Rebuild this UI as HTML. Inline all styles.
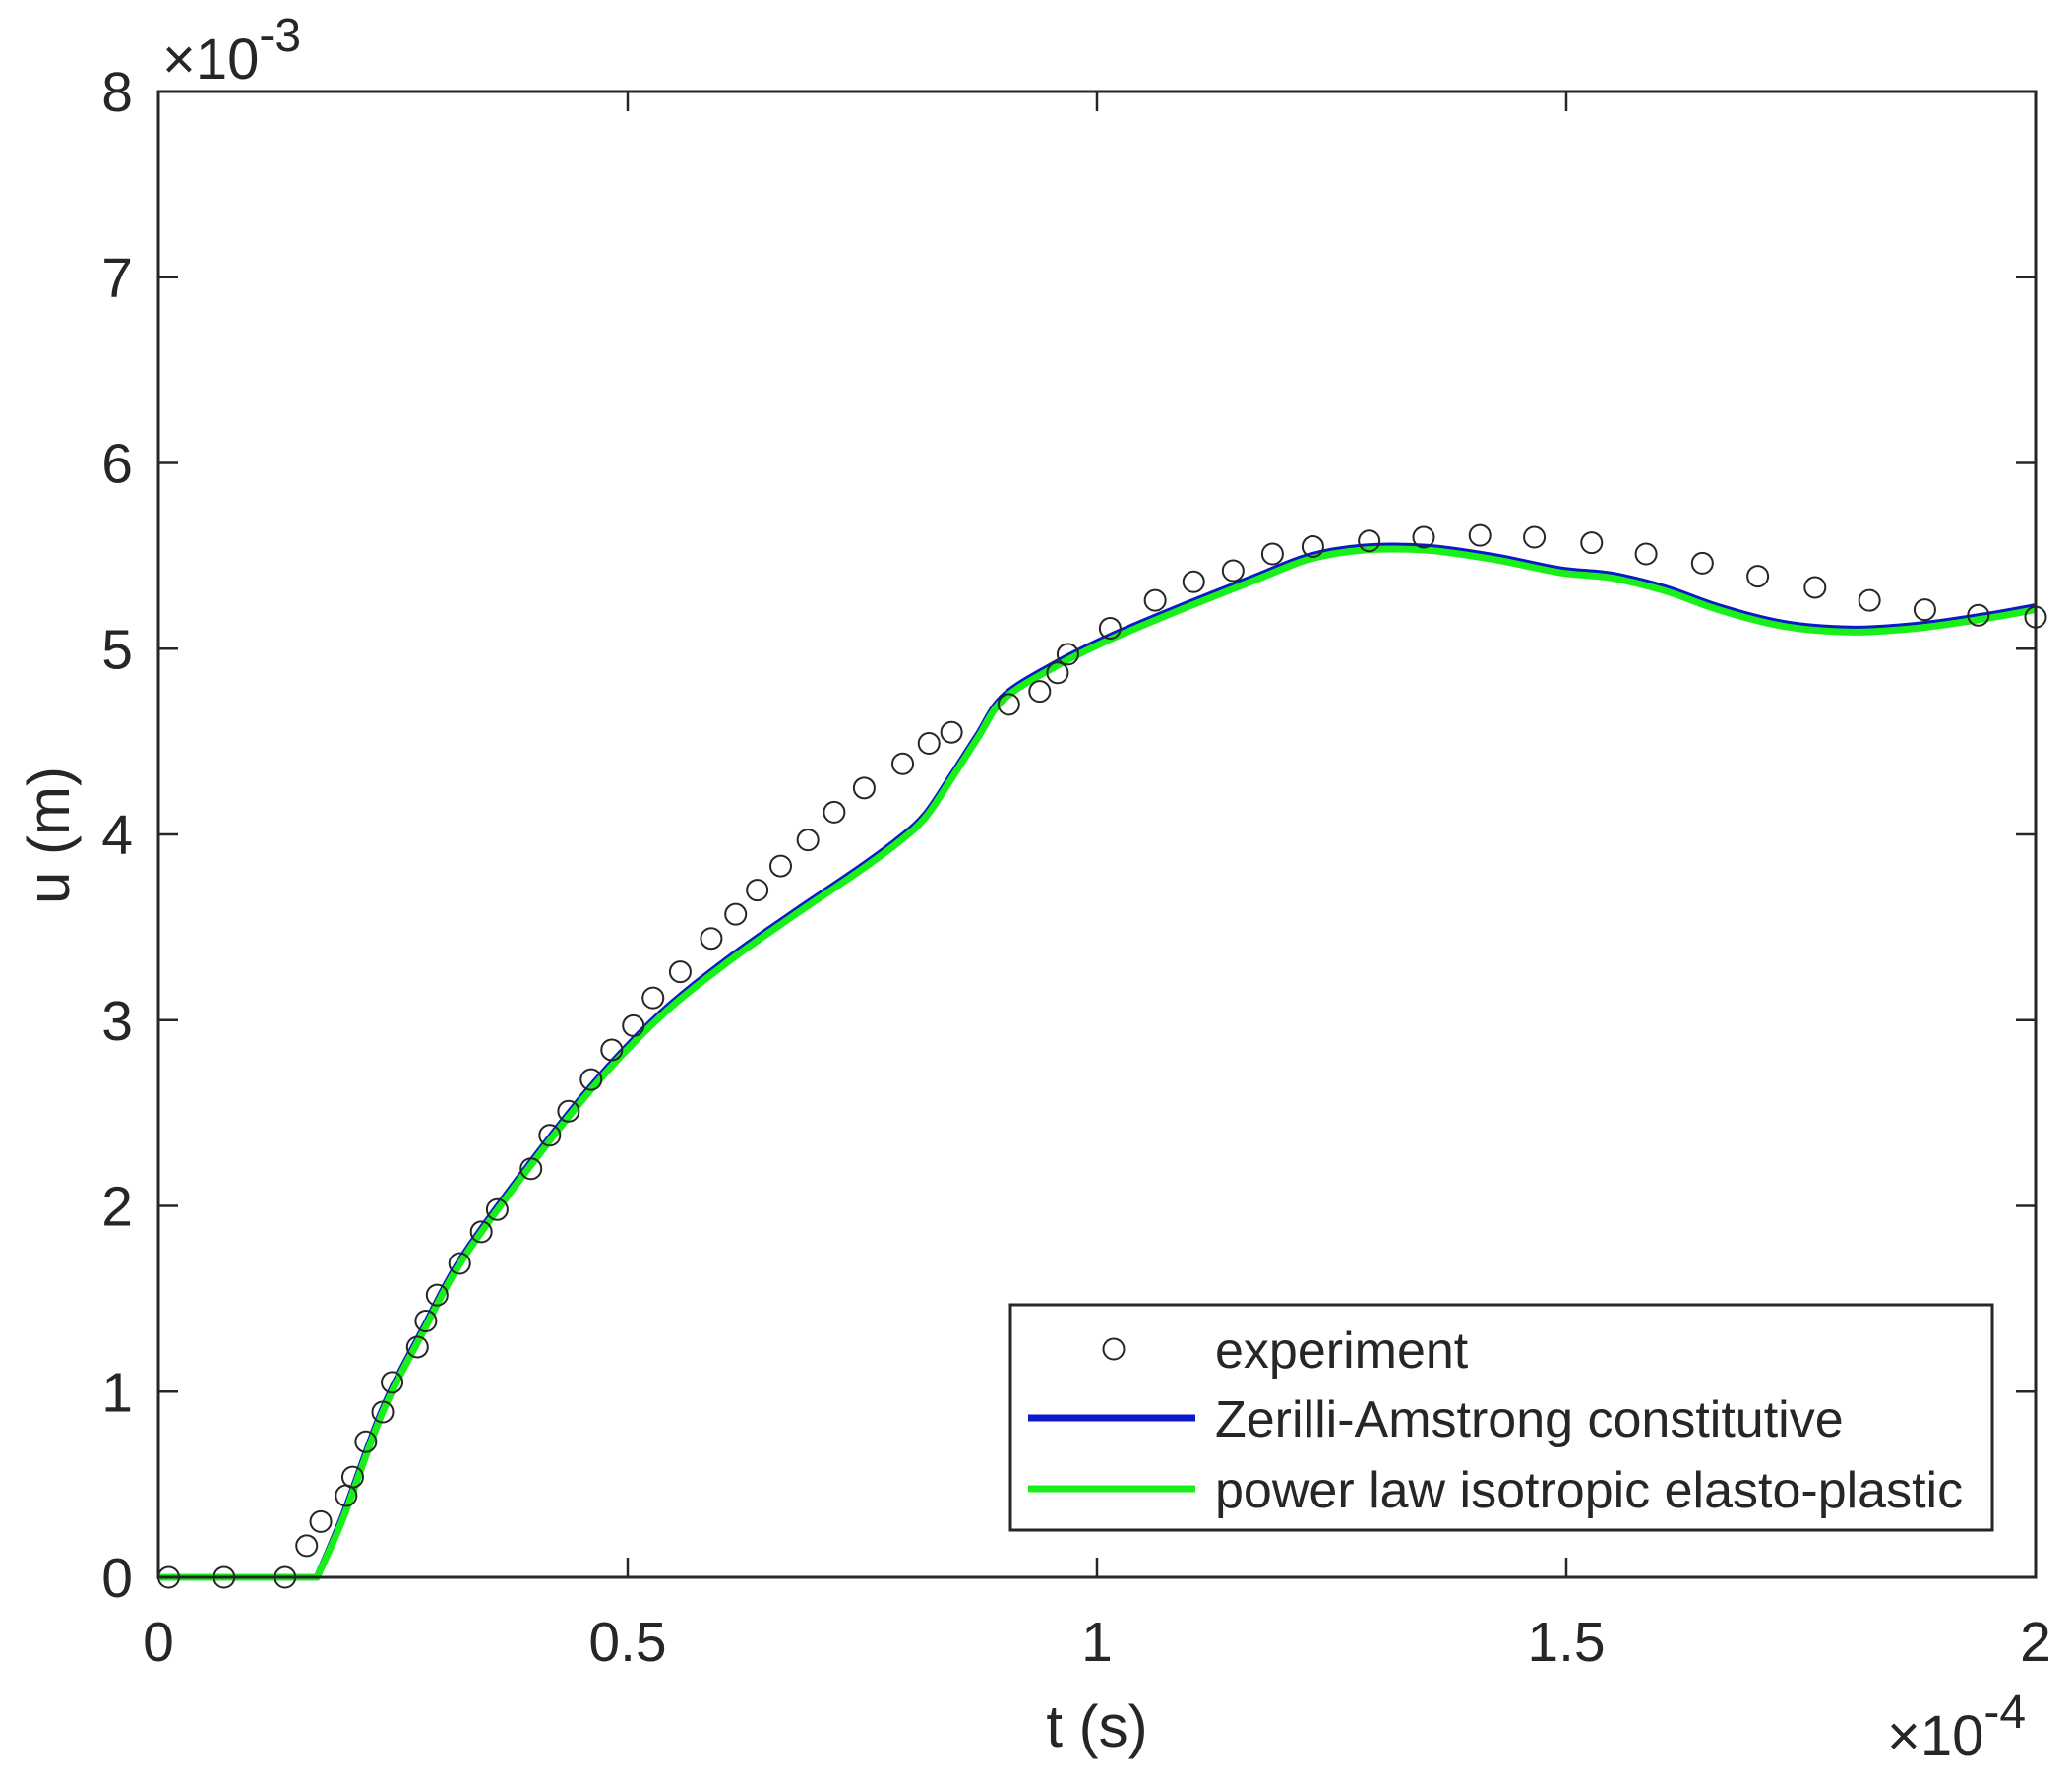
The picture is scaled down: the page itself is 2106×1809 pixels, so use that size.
<!DOCTYPE html>
<html><head><meta charset="utf-8"><style>body{margin:0;background:#fff}svg{display:block}text{font-family:"Liberation Sans",Arial,sans-serif;fill:#262626}</style></head>
<body>
<svg id="s" width="2106" height="1809" viewBox="0 0 2106 1809" xmlns="http://www.w3.org/2000/svg">
<rect width="2106" height="1809" fill="#fff"/>
<g id="g"></g>
</svg>
<script>
const L=161,R=2069,T=93,B=1603;
const X=t=>L+t/2*(R-L), Y=u=>B-u/8*(B-T);
let h='';
for(let i=0;i<=4;i++){const x=X(i*0.5);h+=`<line x1="${x}" y1="${B}" x2="${x}" y2="${B-20}" stroke="#262626" stroke-width="2.5"/><line x1="${x}" y1="${T}" x2="${x}" y2="${T+20}" stroke="#262626" stroke-width="2.5"/>`;
h+=`<text x="${x}" y="1688" font-size="57" text-anchor="middle">${['0','0.5','1','1.5','2'][i]}</text>`;}
for(let i=0;i<=8;i++){const y=Y(i);h+=`<line x1="${L}" y1="${y}" x2="${L+20}" y2="${y}" stroke="#262626" stroke-width="2.5"/><line x1="${R}" y1="${y}" x2="${R-20}" y2="${y}" stroke="#262626" stroke-width="2.5"/>`;
h+=`<text x="135" y="${y+20}" font-size="57" text-anchor="end">${i}</text>`;}
const exp=[[0.011,0],[0.07,0],[0.135,0],[0.158,0.17],[0.173,0.30],[0.2,0.44],[0.207,0.54],[0.221,0.73],[0.239,0.89],[0.249,1.05],[0.276,1.24],[0.285,1.38],[0.297,1.52],[0.321,1.69],[0.344,1.86],[0.361,1.98],[0.397,2.2],[0.417,2.38],[0.437,2.51],[0.461,2.68],[0.483,2.84],[0.506,2.97],[0.527,3.12],[0.556,3.26],[0.589,3.44],[0.615,3.57],[0.638,3.70],[0.663,3.83],[0.692,3.97],[0.72,4.12],[0.752,4.25],[0.793,4.38],[0.821,4.49],[0.845,4.55],[0.906,4.70],[0.939,4.77],[0.958,4.87],[0.969,4.97],[1.014,5.11],[1.062,5.26],[1.103,5.36],[1.145,5.42],[1.187,5.51],[1.23,5.55],[1.29,5.58],[1.348,5.60],[1.408,5.61],[1.466,5.60],[1.527,5.57],[1.585,5.51],[1.645,5.46],[1.704,5.39],[1.765,5.33],[1.823,5.26],[1.882,5.21],[1.939,5.18],[2.0,5.17]];
const cur=[[0,0],[0.169,0],[0.197,0.32],[0.239,0.89],[0.282,1.32],[0.324,1.71],[0.394,2.2],[0.465,2.65],[0.535,3.02],[0.606,3.31],[0.676,3.56],[0.746,3.80],[0.789,3.96],[0.817,4.09],[0.845,4.30],[0.873,4.52],[0.901,4.73],[0.958,4.91],[1.014,5.05],[1.099,5.23],[1.169,5.37],[1.225,5.48],[1.282,5.53],[1.352,5.53],[1.423,5.48],[1.493,5.41],[1.549,5.38],[1.606,5.31],[1.662,5.21],[1.732,5.12],[1.803,5.09],[1.873,5.11],[1.944,5.16],[2.0,5.21]];
function path(dy){
 const P=cur.map(p=>[X(p[0]),Y(p[1])+(p[1]>0.1?dy:0)]);
 let d=`M${P[0][0]},${P[0][1]} L${P[1][0]},${P[1][1]}`;
 for(let i=1;i<P.length-1;i++){
  const p0=P[i-1],p1=P[i],p2=P[i+1],p3=P[Math.min(i+2,P.length-1)];
  const c1=i==1?p1:[p1[0]+(p2[0]-p0[0])/6,p1[1]+(p2[1]-p0[1])/6];
  const c2=[p2[0]-(p3[0]-p1[0])/6,p2[1]-(p3[1]-p1[1])/6];
  d+=` C${c1[0].toFixed(1)},${c1[1].toFixed(1)} ${c2[0].toFixed(1)},${c2[1].toFixed(1)} ${p2[0].toFixed(1)},${p2[1].toFixed(1)}`;
 }
 return d;
}
h+=`<path d="${path(-3)}" fill="none" stroke="#0b19c9" stroke-width="7" stroke-linejoin="round"/>`;
h+=`<path d="${path(0)}" fill="none" stroke="#19f019" stroke-width="7" stroke-linejoin="round"/>`;
exp.forEach(p=>{h+=`<circle cx="${X(p[0])}" cy="${Y(p[1])}" r="10.5" fill="none" stroke="#262626" stroke-width="2"/>`;});
h+=`<rect x="${L}" y="${T}" width="${R-L}" height="${B-T}" fill="none" stroke="#262626" stroke-width="3"/>`;
h+=`<rect x="1027" y="1326" width="998" height="229" fill="#fff" stroke="#262626" stroke-width="3"/>`;
h+=`<circle cx="1132" cy="1371" r="10.5" fill="none" stroke="#262626" stroke-width="2"/>`;
h+=`<line x1="1045" y1="1441" x2="1215" y2="1441" stroke="#0b19c9" stroke-width="7"/>`;
h+=`<line x1="1045" y1="1513" x2="1215" y2="1513" stroke="#19f019" stroke-width="7"/>`;
h+=`<text x="1235" y="1390" font-size="52">experiment</text>`;
h+=`<text x="1235" y="1460" font-size="52">Zerilli-Amstrong constitutive</text>`;
h+=`<text x="1235" y="1532" font-size="52">power law isotropic elasto-plastic</text>`;
h+=`<text x="1115" y="1775" font-size="60" text-anchor="middle">t (s)</text>`;
h+=`<text transform="translate(70,849) rotate(-90)" font-size="60" text-anchor="middle">u (m)</text>`;
h+=`<text x="165" y="80" font-size="58">×10<tspan dy="-28" font-size="48">-3</tspan></text>`;
h+=`<text x="1918" y="1784" font-size="58">×10<tspan dy="-28" font-size="48">-4</tspan></text>`;
document.getElementById('g').innerHTML=h;
</script>
</body></html>
